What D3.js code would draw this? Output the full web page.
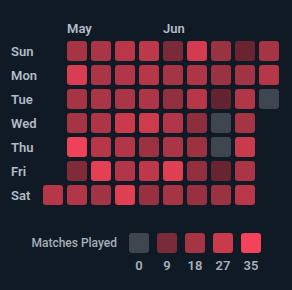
<!DOCTYPE html>
<html>
<head>
<meta charset="utf-8">
<script src="https://cdn.jsdelivr.net/npm/d3@7"></script>
<style>
  html, body { margin: 0; padding: 0; background: #101a24; }
  svg { display: block; }
  text { font-family: Roboto, "Noto Sans", sans-serif; }
</style>
</head>
<body>
<script>
const w = 292;
const h = 290;

// first day shown, then one value per day
const startDate = "2022-04-30";
const matches = [
  22,
  18, 30, 18, 18, 34, 10, 21,
  19, 19, 19, 20, 22, 32, 17,
  23, 21, 19, 27, 21, 21, 31,
  24, 22, 20, 28, 16, 24, 15,
  9, 18, 14, 21, 19, 31, 18,
  29, 20, 22, 13, 16, 14, 15,
  16, 16, 5, 0, 0, 6, 16,
  6, 17, 21, 18, 27, 19, 23,
  18, 22, 0
];
const dayLabels = ["Sun", "Mon", "Tue", "Wed", "Thu", "Fri", "Sat"];
const legendValues = [0, 9, 18, 27, 35];
const legendTitle = "Matches Played";

const parse = d3.timeParse("%Y-%m-%d");
const start = parse(startDate);
const firstWeek = d3.timeWeek.floor(start);

const dataset = matches.map((v, i) => {
  const date = d3.timeDay.offset(start, i);
  return {
    date: date,
    value: v,
    week: d3.timeWeek.count(firstWeek, date),
    day: date.getDay()
  };
});

const nWeeks = d3.max(dataset, (d) => d.week) + 1;

const xScale = d3
  .scaleBand()
  .domain(d3.range(nWeeks))
  .range([43, 43 + 24 * nWeeks - 4])
  .paddingInner(1 / 6);

const yScale = d3
  .scaleBand()
  .domain(d3.range(7))
  .range([41, 41 + 24 * 7 - 4])
  .paddingInner(1 / 6);

const color = d3
  .scaleLinear()
  .domain([1, 9, 18, 27, 35])
  .range(["#4c1b27", "#7a2a38", "#a53445", "#c93a4c", "#f2435a"])
  .clamp(true);
const fill = (v) => (v === 0 ? "#3f464f" : color(v));

const svg = d3.select("body").append("svg").attr("width", w).attr("height", h);

// cells
svg
  .selectAll("rect.day")
  .data(dataset)
  .enter()
  .append("rect")
  .attr("class", "day")
  .attr("x", (d) => xScale(d.week))
  .attr("y", (d) => yScale(d.day))
  .attr("width", xScale.bandwidth())
  .attr("height", yScale.bandwidth())
  .attr("rx", 3)
  .style("fill", (d) => fill(d.value));

// day labels
svg
  .selectAll("text.dayLabel")
  .data(dayLabels)
  .enter()
  .append("text")
  .attr("class", "dayLabel")
  .attr("x", 11)
  .attr("y", (d, i) => yScale(i) + yScale.bandwidth() / 2)
  .attr("dy", "0.35em")
  .style("fill", "#b3bcc7")
  .style("font-size", "13px")
  .style("font-weight", 600)
  .text((d) => d);

// month labels at the first full week of each month
const months = d3.timeMonth.range(d3.timeMonth.ceil(start), dataset[dataset.length - 1].date);
svg
  .selectAll("text.month")
  .data(months)
  .enter()
  .append("text")
  .attr("class", "month")
  .attr("x", (d) => xScale(d3.timeWeek.count(firstWeek, d)))
  .attr("y", 33)
  .style("fill", "#b3bcc7")
  .style("font-size", "13px")
  .style("font-weight", 600)
  .text(d3.timeFormat("%b"));

// legend
const legendX = d3
  .scaleBand()
  .domain(legendValues)
  .range([129, 129 + 28 * legendValues.length - 8])
  .paddingInner(8 / 28);

svg
  .append("text")
  .attr("x", 117)
  .attr("y", 243)
  .attr("dy", "0.35em")
  .attr("text-anchor", "end")
  .style("fill", "#a7b0bb")
  .style("font-size", "12px")
  .style("font-weight", 500)
  .text(legendTitle);

svg
  .selectAll("rect.legend")
  .data(legendValues)
  .enter()
  .append("rect")
  .attr("class", "legend")
  .attr("x", (d) => legendX(d))
  .attr("y", 233)
  .attr("width", legendX.bandwidth())
  .attr("height", 20)
  .attr("rx", 3)
  .style("fill", (d) => fill(d));

svg
  .selectAll("text.legendLabel")
  .data(legendValues)
  .enter()
  .append("text")
  .attr("class", "legendLabel")
  .attr("x", (d) => legendX(d) + legendX.bandwidth() / 2)
  .attr("y", 270)
  .attr("text-anchor", "middle")
  .style("fill", "#a7b0bb")
  .style("font-size", "13px")
  .style("font-weight", 600)
  .text((d) => d);
</script>
</body>
</html>
